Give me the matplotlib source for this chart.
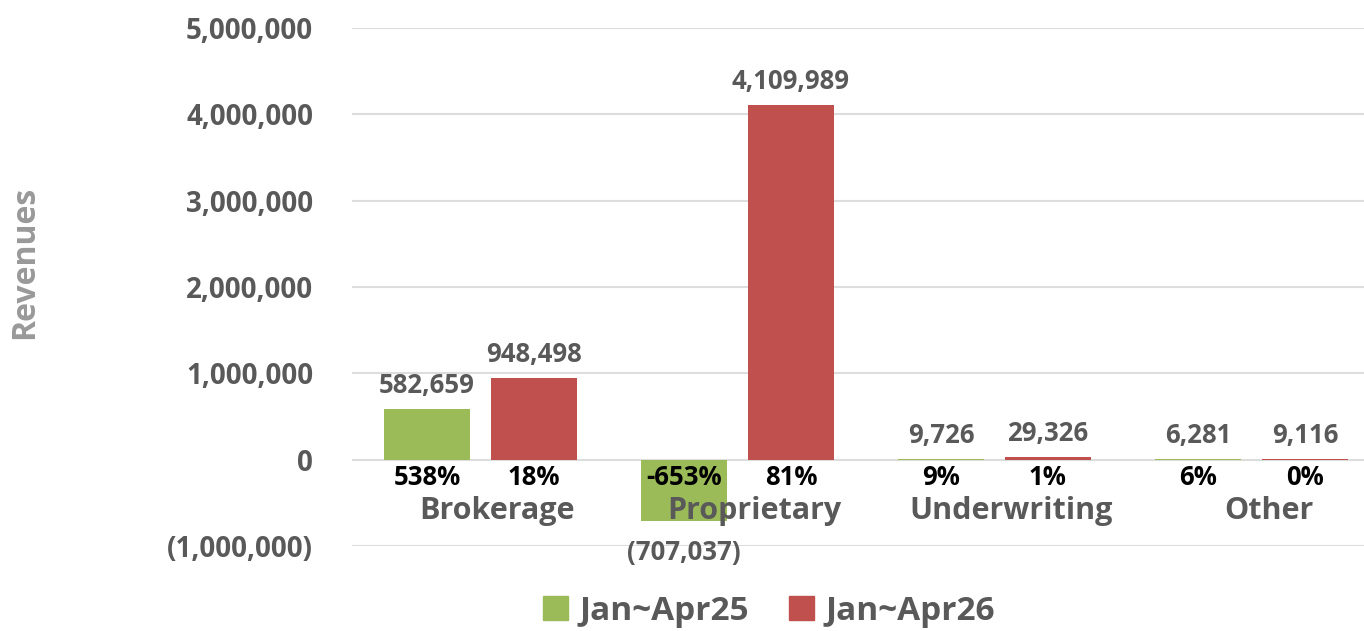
import matplotlib
matplotlib.use("Agg")
import matplotlib.pyplot as plt
import numpy as np
from matplotlib.ticker import FuncFormatter
from matplotlib.patches import Patch

plt.rcParams["font.family"] = ["Open Sans", "DejaVu Sans"]
plt.rcParams["font.weight"] = "bold"

categories = ["Brokerage", "Proprietary", "Underwriting", "Other"]
series_names = ["Jan~Apr25", "Jan~Apr26"]
rev25 = [582659, -707037, 9726, 6281]
rev26 = [948498, 4109989, 29326, 9116]
pct25 = ["538%", "-653%", "9%", "6%"]
pct26 = ["18%", "81%", "1%", "0%"]

green = "#9BBB59"
red = "#C0504D"
grey = "#595959"

fig = plt.figure(figsize=(13.64, 6.31), dpi=100)
ax = fig.add_axes([0.258, 0.1347, 0.742, 0.8209])

x = np.arange(len(categories))
w = 0.335
off = 0.208
b1 = ax.bar(x - off, rev25, w, color=green, zorder=3)
b2 = ax.bar(x + off, rev26, w, color=red, zorder=3)

ax.set_xlim(-0.5, -0.5 + 1012 / 257)
ax.set_ylim(-1000000, 5000000)
ax.set_yticks(np.arange(-1000000, 5000001, 1000000))


def fmt(v, pos=None):
    if v < 0:
        return "({:,.0f})".format(-v)
    return "{:,.0f}".format(v)


ax.yaxis.set_major_formatter(FuncFormatter(fmt))
ax.tick_params(axis="y", length=0, pad=28, labelsize=20, labelcolor=grey)
ax.grid(axis="y", color="#DDDDDD", linewidth=1.5, zorder=0)
for s in ax.spines.values():
    s.set_visible(False)

# category names sit inside the plot, just under the zero line, drawn over the bars
ax.set_xticks(x + 0.066)
ax.set_xticklabels(categories, fontsize=22, color=grey)
ax.tick_params(axis="x", length=0, pad=-36)
ax.xaxis.set_zorder(4)

# value labels
for bars, vals in ((b1, rev25), (b2, rev26)):
    for bar, v in zip(bars, vals):
        cx = bar.get_x() + bar.get_width() / 2
        dy = 17 if v >= 0 else -23
        ax.annotate(fmt(v), (cx, v), xytext=(0, dy), textcoords="offset points",
                    ha="center", va="center", fontsize=18.5, color=grey,
                    fontweight="bold", zorder=5, annotation_clip=False)

# percent labels under zero line
for bars, pcts in ((b1, pct25), (b2, pct26)):
    for bar, p in zip(bars, pcts):
        cx = bar.get_x() + bar.get_width() / 2
        ax.annotate(p, (cx, 0), xytext=(0, -13), textcoords="offset points",
                    ha="center", va="center", fontsize=18.5, color="black",
                    fontweight="bold", zorder=6)

fig.text(25 / 1364, 1 - 262 / 631, "Revenues", rotation=90, ha="center", va="center",
         fontsize=23, color="#999999", fontweight="bold")

handles = [Patch(color=green), Patch(color=red)]
fig.legend(handles, series_names, loc="center", bbox_to_anchor=(769 / 1364, 1 - 611 / 631),
           ncol=2, frameon=False, fontsize=24, handlelength=0.75, handleheight=0.75,
           handletextpad=0.35, columnspacing=1.2, labelcolor=grey)

fig.savefig("out.png", dpi=100)
